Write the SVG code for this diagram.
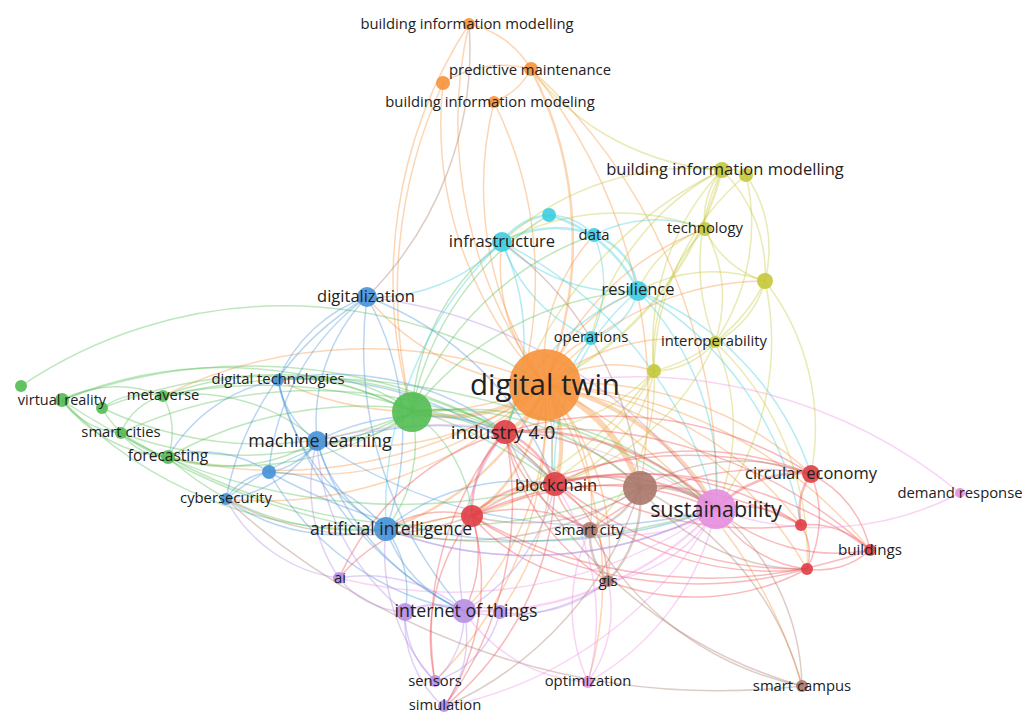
<svg xmlns="http://www.w3.org/2000/svg" width="1024" height="715" viewBox="0 0 1024 715">
<style>
#edges path{fill:none;stroke-width:1.5;stroke-opacity:0.38}
.o{stroke:#f6923a}.g{stroke:#56bf56}.b{stroke:#4a94d8}.c{stroke:#3dcde0}.y{stroke:#c5c83a}.r{stroke:#ef4a50}.p{stroke:#ee8fe6}.w{stroke:#a8786c}.u{stroke:#b08ae6}
.t2{stroke-width:2.5!important}.t4{stroke-width:4!important}.t6{stroke-width:6!important}
circle{fill-opacity:0.9}
.no{fill:#f6923a}.ng{fill:#52bd52}.nb{fill:#4592d8}.nc{fill:#3dcde0}.ny{fill:#c5c83a}.nr{fill:#df3e45}.np{fill:#e58ee0}.nw{fill:#a8786c}.nu{fill:#b88ee6}
text{font-family:"Open Sans","Liberation Sans",sans-serif;fill:#222;text-anchor:middle;dominant-baseline:central}
</style>
<rect width="1024" height="715" fill="#fff"/>
<g id="edges">
<path class="o" d="M545 385A440 440 0 0 1 469 24"/>
<path class="o" d="M545 385A380 380 0 0 1 443 83"/>
<path class="o" d="M545 385A350 350 0 0 1 494 102"/>
<path class="o t2" d="M531 69A380 380 0 0 1 545 385"/>
<path class="o" d="M443 83A110 110 0 0 1 531 69"/>
<path class="o" d="M494 102A70 70 0 0 0 531 69"/>
<path class="o" d="M469 24A95 95 0 0 1 531 69"/>
<path class="y" d="M722 170A260 260 0 0 1 531 69"/>
<path class="o" d="M494 102A400 400 0 0 1 505 432"/>
<path class="o" d="M531 69A520 520 0 0 1 640 488"/>
<path class="o" d="M531 69A570 570 0 0 1 716 509"/>
<path class="o" d="M412 412A470 470 0 0 1 469 24"/>
<path class="o" d="M443 83A500 500 0 0 0 412 412"/>
<path class="o t4" d="M545 385A160 160 0 0 1 412 412"/>
<path class="o t4" d="M545 385A75 75 0 0 1 505 432"/>
<path class="o t4" d="M545 385A120 120 0 0 1 555 484"/>
<path class="o t6" d="M545 385A170 170 0 0 1 640 488"/>
<path class="o t4" d="M545 385A250 250 0 0 1 716 509"/>
<path class="o" d="M545 385A180 180 0 0 1 590 530"/>
<path class="o t2" d="M545 385A180 180 0 0 1 472 516"/>
<path class="o t2" d="M545 385A260 260 0 0 1 386 529"/>
<path class="o" d="M545 385A280 280 0 0 1 317 441"/>
<path class="o" d="M545 385A340 340 0 0 1 811 474"/>
<path class="o" d="M545 385A350 350 0 0 1 801 525"/>
<path class="o" d="M545 385A380 380 0 0 1 807 569"/>
<path class="o" d="M545 385A440 440 0 0 1 870 550"/>
<path class="o" d="M545 385A250 250 0 0 1 608 581"/>
<path class="o" d="M545 385A480 480 0 0 1 802 686"/>
<path class="o" d="M545 385A290 290 0 0 1 464 611"/>
<path class="o" d="M545 385A400 400 0 0 1 226 499"/>
<path class="o" d="M545 385A460 460 0 0 1 168 457"/>
<path class="o" d="M545 385A320 320 0 0 1 278 380"/>
<path class="o" d="M545 385A240 240 0 0 1 367 297"/>
<path class="o" d="M545 385A180 180 0 0 1 502 242"/>
<path class="o" d="M545 385A160 160 0 0 1 638 291"/>
<path class="o" d="M545 385A270 270 0 0 1 705 229"/>
<path class="y t2" d="M722 170A330 330 0 0 1 545 385"/>
<path class="o" d="M545 385A290 290 0 0 1 765 281"/>
<path class="o" d="M545 385A210 210 0 0 1 715 342"/>
<path class="o" d="M545 385A80 80 0 0 1 591 338"/>
<path class="o" d="M545 385A190 190 0 0 1 594 235"/>
<path class="o" d="M545 385A460 460 0 0 0 163 396"/>
<path class="o" d="M545 385A130 130 0 0 1 654 371"/>
<path class="o" d="M545 385A350 350 0 0 1 269 472"/>
<path class="o" d="M545 385A280 280 0 0 1 500 612"/>
<path class="o" d="M545 385A360 360 0 0 1 588 682"/>
<path class="o" d="M545 385A380 380 0 0 1 435 681"/>
<path class="g" d="M412 412A300 300 0 0 1 168 457"/>
<path class="g" d="M412 412A350 350 0 0 1 121 433"/>
<path class="g" d="M412 412A300 300 0 0 0 163 396"/>
<path class="g" d="M412 412A420 420 0 0 0 62 400"/>
<path class="g" d="M412 412A370 370 0 0 1 102 408"/>
<path class="g" d="M412 412A120 120 0 0 1 317 441"/>
<path class="g" d="M412 412A165 165 0 0 0 278 380"/>
<path class="g" d="M412 412A230 230 0 0 1 502 242"/>
<path class="g" d="M412 412A310 310 0 0 1 638 291"/>
<path class="g" d="M412 412A300 300 0 0 1 594 235"/>
<path class="g" d="M412 412A290 290 0 0 1 549 215"/>
<path class="g" d="M412 412A115 115 0 0 1 505 432"/>
<path class="g" d="M412 412A190 190 0 0 1 555 484"/>
<path class="g" d="M412 412A140 140 0 0 1 386 529"/>
<path class="g" d="M412 412A380 380 0 0 1 716 509"/>
<path class="g" d="M412 412A140 140 0 0 1 472 516"/>
<path class="g" d="M412 412A280 280 0 0 1 640 488"/>
<path class="g" d="M21 386A470 470 0 0 1 545 385"/>
<path class="g" d="M62 400A120 120 0 0 1 163 396"/>
<path class="g" d="M62 400A80 80 0 0 0 121 433"/>
<path class="g" d="M62 400A145 145 0 0 0 168 457"/>
<path class="g" d="M102 408A100 100 0 0 0 168 457"/>
<path class="g" d="M102 408A75 75 0 0 1 163 396"/>
<path class="g" d="M163 396A75 75 0 0 1 168 457"/>
<path class="g" d="M121 433A60 60 0 0 0 168 457"/>
<path class="g" d="M121 433A60 60 0 0 1 163 396"/>
<path class="g" d="M163 396A190 190 0 0 1 317 441"/>
<path class="g" d="M168 457A180 180 0 0 0 317 441"/>
<path class="g" d="M168 457A280 280 0 0 0 386 529"/>
<path class="g" d="M168 457A400 400 0 0 1 505 432"/>
<path class="g" d="M62 400A530 530 0 0 1 505 432"/>
<path class="g" d="M62 400A600 600 0 0 0 555 484"/>
<path class="g" d="M121 433A720 720 0 0 0 716 509"/>
<path class="g" d="M102 408A480 480 0 0 1 505 432"/>
<path class="g" d="M163 396A480 480 0 0 1 555 484"/>
<path class="g" d="M168 457A560 560 0 0 0 640 488"/>
<path class="g" d="M121 433A460 460 0 0 1 505 432"/>
<path class="g" d="M62 400A420 420 0 0 0 386 529"/>
<path class="g" d="M163 396A680 680 0 0 1 716 509"/>
<path class="b" d="M367 297A180 180 0 0 0 317 441"/>
<path class="b" d="M367 297A280 280 0 0 1 386 529"/>
<path class="b" d="M367 297A150 150 0 0 0 278 380"/>
<path class="b" d="M367 297A300 300 0 0 0 226 499"/>
<path class="c" d="M367 297A175 175 0 0 0 502 242"/>
<path class="b" d="M367 297A240 240 0 0 0 269 472"/>
<path class="u" d="M367 297A490 490 0 0 1 716 509"/>
<path class="b" d="M367 297A320 320 0 0 1 555 484"/>
<path class="w" d="M367 297A350 350 0 0 0 469 24"/>
<path class="b" d="M317 441A135 135 0 0 0 386 529"/>
<path class="b" d="M317 441A130 130 0 0 1 226 499"/>
<path class="b" d="M317 441A70 70 0 0 1 269 472"/>
<path class="b" d="M317 441A90 90 0 0 1 278 380"/>
<path class="b" d="M317 441A270 270 0 0 0 464 611"/>
<path class="b" d="M317 441A225 225 0 0 1 505 432"/>
<path class="b" d="M317 441A490 490 0 0 0 716 509"/>
<path class="b" d="M386 529A195 195 0 0 1 226 499"/>
<path class="b" d="M386 529A155 155 0 0 0 269 472"/>
<path class="b" d="M386 529A135 135 0 0 0 464 611"/>
<path class="b" d="M386 529A105 105 0 0 1 405 612"/>
<path class="b" d="M386 529A400 400 0 0 0 716 509"/>
<path class="b" d="M386 529A210 210 0 0 1 555 484"/>
<path class="b" d="M278 380A220 220 0 0 0 386 529"/>
<path class="b" d="M278 380A355 355 0 0 1 555 484"/>
<path class="b" d="M278 380A280 280 0 0 1 505 432"/>
<path class="b" d="M278 380A160 160 0 0 0 168 457"/>
<path class="b" d="M226 499A345 345 0 0 1 505 432"/>
<path class="w" d="M226 499A300 300 0 0 0 472 516"/>
<path class="b" d="M269 472A120 120 0 0 0 168 457"/>
<path class="b" d="M269 472A540 540 0 0 0 716 509"/>
<path class="b" d="M269 472A280 280 0 0 0 464 611"/>
<path class="b" d="M226 499A60 60 0 0 1 269 472"/>
<path class="w" d="M226 499A730 730 0 0 0 802 686"/>
<path class="c t2" d="M502 242A65 65 0 0 1 549 215"/>
<path class="c t2" d="M502 242A110 110 0 0 1 594 235"/>
<path class="c" d="M502 242A175 175 0 0 0 638 291"/>
<path class="c" d="M502 242A160 160 0 0 0 591 338"/>
<path class="c" d="M502 242A370 370 0 0 0 386 529"/>
<path class="c" d="M502 242A230 230 0 0 1 505 432"/>
<path class="c" d="M502 242A410 410 0 0 1 716 509"/>
<path class="w" d="M502 242A340 340 0 0 1 640 488"/>
<path class="c" d="M549 215A65 65 0 0 1 594 235"/>
<path class="c t2" d="M549 215A140 140 0 0 1 638 291"/>
<path class="c t2" d="M594 235A65 65 0 0 1 638 291"/>
<path class="c" d="M594 235A125 125 0 0 1 591 338"/>
<path class="c" d="M594 235A135 135 0 0 1 705 229"/>
<path class="c" d="M638 291A65 65 0 0 1 591 338"/>
<path class="c" d="M638 291A280 280 0 0 1 716 509"/>
<path class="c" d="M638 291A300 300 0 0 1 811 474"/>
<path class="c" d="M638 291A230 230 0 0 0 505 432"/>
<path class="c" d="M638 291A230 230 0 0 0 555 484"/>
<path class="c" d="M638 291A340 340 0 0 1 801 525"/>
<path class="c" d="M591 338A180 180 0 0 0 555 484"/>
<path class="y" d="M722 170A30 30 0 0 1 746 175"/>
<path class="y" d="M722 170A75 75 0 0 0 705 229"/>
<path class="y" d="M722 170A145 145 0 0 1 765 281"/>
<path class="y" d="M722 170A210 210 0 0 0 715 342"/>
<path class="y" d="M722 170A255 255 0 0 0 654 371"/>
<path class="y" d="M722 170A410 410 0 0 0 505 432"/>
<path class="y" d="M722 170A255 255 0 0 0 591 338"/>
<path class="y" d="M722 170A280 280 0 0 0 502 242"/>
<path class="y" d="M746 175A130 130 0 0 1 765 281"/>
<path class="y" d="M746 175A210 210 0 0 1 715 342"/>
<path class="y" d="M746 175A260 260 0 0 0 654 371"/>
<path class="y" d="M705 229A95 95 0 0 0 765 281"/>
<path class="y" d="M705 229A180 180 0 0 0 654 371"/>
<path class="y" d="M705 229A140 140 0 0 1 715 342"/>
<path class="y" d="M705 229A110 110 0 0 0 638 291"/>
<path class="y" d="M705 229A245 245 0 0 0 502 242"/>
<path class="y" d="M765 281A95 95 0 0 1 715 342"/>
<path class="y" d="M765 281A170 170 0 0 1 654 371"/>
<path class="y" d="M765 281A155 155 0 0 0 638 291"/>
<path class="y" d="M765 281A280 280 0 0 1 716 509"/>
<path class="y" d="M765 281A240 240 0 0 1 811 474"/>
<path class="y" d="M715 342A80 80 0 0 1 654 371"/>
<path class="y" d="M715 342A205 205 0 0 1 716 509"/>
<path class="y" d="M715 342A255 255 0 0 1 555 484"/>
<path class="y" d="M654 371A195 195 0 0 1 505 432"/>
<path class="y" d="M654 371A150 150 0 0 1 555 484"/>
<path class="y" d="M654 371A370 370 0 0 1 386 529"/>
<path class="y" d="M654 371A285 285 0 0 1 472 516"/>
<path class="y" d="M654 371A200 200 0 0 1 590 530"/>
<path class="y" d="M715 342A295 295 0 0 1 807 569"/>
<path class="r t2" d="M505 432A90 90 0 0 1 555 484"/>
<path class="r t2" d="M505 432A110 110 0 0 0 472 516"/>
<path class="r t2" d="M505 432A270 270 0 0 1 716 509"/>
<path class="r" d="M505 432A370 370 0 0 1 811 474"/>
<path class="r" d="M505 432A370 370 0 0 0 801 525"/>
<path class="r" d="M505 432A385 385 0 0 0 807 569"/>
<path class="r" d="M505 432A140 140 0 0 0 590 530"/>
<path class="r" d="M505 432A220 220 0 0 0 608 581"/>
<path class="r" d="M505 432A460 460 0 0 1 870 550"/>
<path class="r t2" d="M555 484A105 105 0 0 0 472 516"/>
<path class="r t2" d="M555 484A195 195 0 0 1 716 509"/>
<path class="r" d="M555 484A310 310 0 0 1 811 474"/>
<path class="r" d="M555 484A300 300 0 0 1 801 525"/>
<path class="r" d="M555 484A310 310 0 0 0 807 569"/>
<path class="r" d="M555 484A65 65 0 0 0 590 530"/>
<path class="r" d="M555 484A120 120 0 0 1 608 581"/>
<path class="r" d="M555 484A380 380 0 0 1 870 550"/>
<path class="r" d="M472 516A290 290 0 0 1 716 509"/>
<path class="r" d="M472 516A415 415 0 0 1 811 474"/>
<path class="r" d="M472 516A395 395 0 0 1 801 525"/>
<path class="r" d="M472 516A410 410 0 0 0 807 569"/>
<path class="r" d="M472 516A180 180 0 0 0 608 581"/>
<path class="r" d="M472 516A145 145 0 0 1 590 530"/>
<path class="r" d="M472 516A480 480 0 0 0 870 550"/>
<path class="r t2" d="M811 474A65 65 0 0 0 801 525"/>
<path class="r" d="M811 474A115 115 0 0 1 807 569"/>
<path class="r" d="M811 474A110 110 0 0 1 870 550"/>
<path class="r" d="M801 525A55 55 0 0 1 807 569"/>
<path class="r" d="M801 525A85 85 0 0 1 870 550"/>
<path class="r" d="M807 569A75 75 0 0 0 870 550"/>
<path class="r" d="M716 509A110 110 0 0 1 801 525"/>
<path class="r" d="M716 509A120 120 0 0 0 807 569"/>
<path class="r t2" d="M716 509A115 115 0 0 1 811 474"/>
<path class="r" d="M716 509A185 185 0 0 0 870 550"/>
<path class="r" d="M386 529A105 105 0 0 1 472 516"/>
<path class="r" d="M472 516A175 175 0 0 0 339 578"/>
<path class="r" d="M472 516A120 120 0 0 1 464 611"/>
<path class="r" d="M472 516A200 200 0 0 0 435 681"/>
<path class="r" d="M472 516A230 230 0 0 1 444 707"/>
<path class="r" d="M555 484A300 300 0 0 1 444 707"/>
<path class="r" d="M807 569A240 240 0 0 1 608 581"/>
<path class="r" d="M811 474A275 275 0 0 0 590 530"/>
<path class="r" d="M339 578A265 265 0 0 1 505 432"/>
<path class="p" d="M960 493A300 300 0 0 1 716 509"/>
<path class="p" d="M545 385A510 510 0 0 1 960 493"/>
<path class="p" d="M716 509A260 260 0 0 1 588 682"/>
<path class="p t2" d="M716 509A330 330 0 0 1 464 611"/>
<path class="p" d="M716 509A400 400 0 0 1 444 707"/>
<path class="p" d="M716 509A460 460 0 0 1 339 578"/>
<path class="p" d="M716 509A400 400 0 0 1 386 529"/>
<path class="p" d="M716 509A155 155 0 0 1 590 530"/>
<path class="p" d="M716 509A150 150 0 0 1 608 581"/>
<path class="p" d="M608 581A125 125 0 0 1 588 682"/>
<path class="p" d="M555 484A240 240 0 0 1 588 682"/>
<path class="p" d="M590 530A180 180 0 0 0 588 682"/>
<path class="p" d="M464 611A160 160 0 0 0 588 682"/>
<path class="p" d="M716 509A490 490 0 0 0 317 441"/>
<path class="w t2" d="M640 488A80 80 0 0 1 590 530"/>
<path class="w t2" d="M640 488A120 120 0 0 1 608 581"/>
<path class="w" d="M640 488A310 310 0 0 1 802 686"/>
<path class="w t4" d="M640 488A95 95 0 0 1 716 509"/>
<path class="w" d="M640 488A175 175 0 0 0 505 432"/>
<path class="w" d="M640 488A100 100 0 0 0 555 484"/>
<path class="w" d="M640 488A310 310 0 0 1 386 529"/>
<path class="w" d="M640 488A205 205 0 0 1 472 516"/>
<path class="w" d="M640 488A200 200 0 0 1 811 474"/>
<path class="w" d="M640 488A210 210 0 0 0 807 569"/>
<path class="w t2" d="M590 530A70 70 0 0 0 608 581"/>
<path class="w" d="M590 530A315 315 0 0 0 802 686"/>
<path class="w" d="M716 509A235 235 0 0 1 802 686"/>
<path class="w" d="M505 432A470 470 0 0 0 802 686"/>
<path class="u t2" d="M464 611A70 70 0 0 0 405 612"/>
<path class="u" d="M464 611A45 45 0 0 1 500 612"/>
<path class="u" d="M464 611A155 155 0 0 0 339 578"/>
<path class="u" d="M464 611A90 90 0 0 1 435 681"/>
<path class="u" d="M464 611A120 120 0 0 1 444 707"/>
<path class="u" d="M405 612A90 90 0 0 0 435 681"/>
<path class="u" d="M405 612A115 115 0 0 0 444 707"/>
<path class="u" d="M405 612A90 90 0 0 1 339 578"/>
<path class="u" d="M500 612A95 95 0 0 1 435 681"/>
<path class="u" d="M339 578A165 165 0 0 1 317 441"/>
<path class="u" d="M339 578A150 150 0 0 1 226 499"/>
<path class="u" d="M464 611A190 190 0 0 0 555 484"/>
<path class="u" d="M464 611A220 220 0 0 1 505 432"/>
<path class="u" d="M464 611A175 175 0 0 0 608 581"/>
<path class="u" d="M405 612A230 230 0 0 1 317 441"/>
<path class="b" d="M464 611A395 395 0 0 1 367 297"/>
<path class="b" d="M464 611A355 355 0 0 1 278 380"/>
<path class="u" d="M500 612A135 135 0 0 0 608 581"/>
<path class="r" d="M435 681A310 310 0 0 1 505 432"/>
<path class="u" d="M435 681A190 190 0 0 1 386 529"/>
<path class="w" d="M444 707A355 355 0 0 0 640 488"/>
<path class="r" d="M444 707A340 340 0 0 0 505 432"/>
</g>
<g id="nodes">
<g id="n-digital-twin"><circle class="no" cx="545" cy="385" r="36"/><text x="545" y="383" font-size="29.5">digital twin</text></g>
<g id="n-green-hub"><circle class="ng" cx="412" cy="412" r="20"/></g>
<g id="n-brown-hub"><circle class="nw" cx="640" cy="488" r="17"/></g>
<g id="n-sustainability"><circle class="np" cx="716" cy="509" r="20"/><text x="716" y="508" font-size="21.5">sustainability</text></g>
<g id="n-industry-4-0"><circle class="nr" cx="505" cy="432" r="12"/><text x="503" y="432" font-size="19">industry 4.0</text></g>
<g id="n-blockchain"><circle class="nr" cx="555" cy="484" r="12"/><text x="556" y="484" font-size="16.5">blockchain</text></g>
<g id="n-red-1"><circle class="nr" cx="472" cy="516" r="11"/></g>
<g id="n-artificial-intelligence"><circle class="nb" cx="386" cy="529" r="12"/><text x="391" y="528" font-size="17.5">artificial intelligence</text></g>
<g id="n-machine-learning"><circle class="nb" cx="317" cy="441" r="10"/><text x="320" y="440" font-size="17.8">machine learning</text></g>
<g id="n-smart-city"><circle class="nw" cx="590" cy="530" r="8"/><text x="589" y="529" font-size="15.2">smart city</text></g>
<g id="n-gis"><circle class="nw" cx="608" cy="581" r="6"/><text x="608" y="580" font-size="15">gis</text></g>
<g id="n-red-2"><circle class="nr" cx="801" cy="525" r="6"/></g>
<g id="n-red-3"><circle class="nr" cx="807" cy="569" r="6"/></g>
<g id="n-circular-economy"><circle class="nr" cx="811" cy="474" r="9"/><text x="811" y="472" font-size="16.5">circular economy</text></g>
<g id="n-buildings"><circle class="nr" cx="870" cy="550" r="6"/><text x="870" y="549" font-size="15.2">buildings</text></g>
<g id="n-demand-response"><circle class="np" cx="960" cy="493" r="5"/><text x="960" y="492" font-size="14.8">demand response</text></g>
<g id="n-smart-campus"><circle class="nw" cx="802" cy="686" r="6"/><text x="802" y="685" font-size="14.8">smart campus</text></g>
<g id="n-optimization"><circle class="np" cx="588" cy="682" r="6"/><text x="588" y="680" font-size="14.8">optimization</text></g>
<g id="n-iot-1"><circle class="nu" cx="405" cy="612" r="9"/></g>
<g id="n-iot-3"><circle class="nu" cx="500" cy="612" r="7"/></g>
<g id="n-internet-of-things"><circle class="nu" cx="464" cy="611" r="12"/><text x="466" y="610" font-size="17.8">internet of things</text></g>
<g id="n-ai"><circle class="nu" cx="339" cy="578" r="6"/><text x="340" y="577" font-size="14.8">ai</text></g>
<g id="n-sensors"><circle class="nu" cx="435" cy="681" r="6"/><text x="435" y="680" font-size="14.8">sensors</text></g>
<g id="n-simulation"><circle class="nu" cx="444" cy="706" r="6"/><text x="445" y="704" font-size="14.8">simulation</text></g>
<g id="n-blue-2"><circle class="nb" cx="269" cy="472" r="7"/></g>
<g id="n-cybersecurity"><circle class="nb" cx="226" cy="499" r="6"/><text x="226" y="497" font-size="14.8">cybersecurity</text></g>
<g id="n-digital-technologies"><circle class="nb" cx="278" cy="380" r="6"/><text x="278" y="378" font-size="14.8">digital technologies</text></g>
<g id="n-digitalization"><circle class="nb" cx="367" cy="297" r="10"/><text x="366" y="295" font-size="16.5">digitalization</text></g>
<g id="n-forecasting"><circle class="ng" cx="168" cy="457" r="7"/><text x="168" y="455" font-size="15.5">forecasting</text></g>
<g id="n-smart-cities"><circle class="ng" cx="121" cy="433" r="6"/><text x="121" y="431" font-size="14.8">smart cities</text></g>
<g id="n-metaverse"><circle class="ng" cx="163" cy="396" r="6"/><text x="163" y="394" font-size="14.8">metaverse</text></g>
<g id="n-green-vr1"><circle class="ng" cx="21" cy="386" r="6"/></g>
<g id="n-green-vr3"><circle class="ng" cx="102" cy="408" r="6"/></g>
<g id="n-virtual-reality"><circle class="ng" cx="62" cy="400" r="7"/><text x="62" y="399" font-size="14.5">virtual reality</text></g>
<g id="n-cyan-2"><circle class="nc" cx="549" cy="215" r="7"/></g>
<g id="n-infrastructure"><circle class="nc" cx="502" cy="242" r="10"/><text x="502" y="240" font-size="16.5">infrastructure</text></g>
<g id="n-data"><circle class="nc" cx="594" cy="235" r="7"/><text x="594" y="234" font-size="14.8">data</text></g>
<g id="n-resilience"><circle class="nc" cx="638" cy="291" r="10"/><text x="638" y="288" font-size="16.5">resilience</text></g>
<g id="n-operations"><circle class="nc" cx="591" cy="338" r="7"/><text x="591" y="336" font-size="14.8">operations</text></g>
<g id="n-yellow-2"><circle class="ny" cx="765" cy="281" r="8"/></g>
<g id="n-yellow-4"><circle class="ny" cx="654" cy="371" r="7"/></g>
<g id="n-technology"><circle class="ny" cx="705" cy="229" r="7"/><text x="705" y="227" font-size="14.8">technology</text></g>
<g id="n-interoperability"><circle class="ny" cx="715" cy="342" r="6"/><text x="714" y="340" font-size="14.8">interoperability</text></g>
<g id="n-yellow-3"><circle class="ny" cx="746" cy="175" r="7"/></g>
<g id="n-bim-yellow"><circle class="ny" cx="722" cy="170" r="8"/><text x="725" y="168" font-size="16.5">building information modelling</text></g>
<g id="n-orange-4"><circle class="no" cx="443" cy="83" r="7"/></g>
<g id="n-bim-orange"><circle class="no" cx="469" cy="24" r="6"/><text x="467" y="23" font-size="14.8">building information modelling</text></g>
<g id="n-predictive-maintenance"><circle class="no" cx="531" cy="69" r="7"/><text x="530" y="69" font-size="14.8">predictive maintenance</text></g>
<g id="n-bim-modeling"><circle class="no" cx="494" cy="102" r="6"/><text x="490" y="101" font-size="14.8">building information modeling</text></g>
</g>
</svg>
